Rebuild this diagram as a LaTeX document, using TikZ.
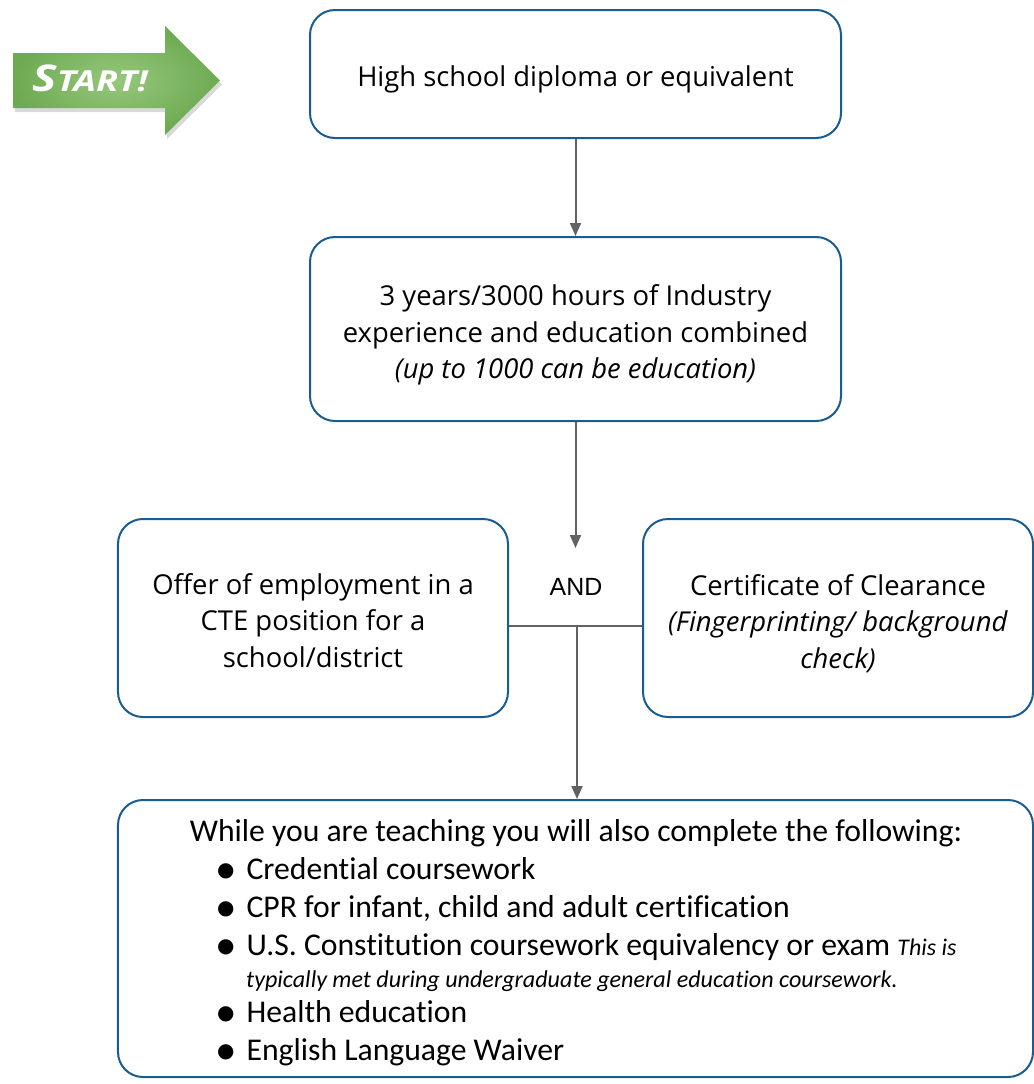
\documentclass[tikz,border=0pt]{standalone}
\usepackage{fontspec}
\setmainfont{Open Sans}
\newfontfamily\calibri{Carlito}[Ligatures=NoCommon]
\newfontfamily\arialfont{Liberation Sans}
\newfontfamily\symfont{DejaVu Sans}
\usetikzlibrary{arrows.meta, shadows}

\definecolor{boxblue}{RGB}{25,92,145}
\definecolor{linegray}{RGB}{98,98,98}
\definecolor{startgreen}{RGB}{110,170,82}
\definecolor{startlight}{RGB}{150,200,124}

\newcommand{\bul}{\raisebox{3bp}{\symfont\fontsize{20}{20}\selectfont ●}\hspace{12bp}}
\newcommand{\topstrut}[1]{\rule{0pt}{#1}}

\begin{document}
\begin{tikzpicture}[x=1bp, y=1bp,
    box/.style={draw=boxblue, line width=2bp, rounded corners=25bp, align=center,
        inner sep=0pt, font=\fontsize{27.5}{36.5}\selectfont},
    conn/.style={draw=linegray, line width=2bp, -{Triangle[width=11bp,length=13bp]}},
    item/.style={anchor=base west, inner sep=0pt, font=\calibri\fontsize{31.8}{38}\selectfont}]
    \useasboundingbox (0,0) rectangle (1034,-1084);

    % start arrow
    \path[drop shadow={shadow xshift=2bp, shadow yshift=-4bp, opacity=0.3},
        inner color=startlight, outer color=startgreen]
        (13,-53) -- (165,-53) -- (165,-26) -- (220,-80.5) -- (165,-135)
        -- (165,-108) -- (13,-108) -- cycle;
    \node[text=white, font=\bfseries\itshape\addfontfeature{FakeStretch=1.25}\fontsize{37}{37}\selectfont]
        (start) at (90,-78) {S{\fontsize{29}{29}\selectfont TART!}};

    % boxes
    \node[box, minimum width=531bp, minimum height=128bp] (diploma)   at (575.5,-74)
        {\topstrut{31bp}High school diploma or equivalent};
    \node[box, minimum width=531bp, minimum height=184bp] (industry)  at (575.5,-329)
        {\topstrut{33bp}3 years/3000 hours of Industry\\ experience and education combined\\
         \textit{(up to 1000 can be education)}};
    \node[box, minimum width=390bp, minimum height=198bp] (offer)     at (313,-618)
        {\topstrut{26bp}Offer of employment in a\\ CTE position for a\\ school/district};
    \node[box, minimum width=390bp, minimum height=198bp] (clearance) at (838,-618)
        {\topstrut{32bp}Certificate of Clearance\\ \textit{(Fingerprinting/ background}\\ \textit{check)}};
    \node[box, minimum width=915bp, minimum height=277bp] (tasks)     at (575.5,-938.5) {};

    \node[font=\arialfont\fontsize{25}{25}\selectfont] (and) at (576,-587) {AND};

    % list in the last box
    \node[item, anchor=base] (intro) at (576,-841)
        {While you are teaching you will also complete the following:};
    \node[item] (course)  at (217,-879)  {\bul Credential coursework};
    \node[item] (cpr)     at (217,-917)  {\bul CPR for infant, child and adult certification};
    \node[item] (usc)     at (217,-955)  {\bul U.S. Constitution coursework equivalency or exam
        {\itshape\fontsize{24}{24}\selectfont This is}};
    \node[item, font=\calibri\itshape\fontsize{24.2}{24}\selectfont] (usnote) at (246,-987)
        {typically met during undergraduate general education coursework.};
    \node[item] (health)  at (217,-1022) {\bul Health education};
    \node[item] (english) at (217,-1060) {\bul English Language Waiver};

    % connectors
    \coordinate (join)  at (575.5,-548);
    \coordinate (split) at (577,-626);
    \path
        (diploma)
            edge [conn] (industry)
        (industry.south)
            edge [conn] (join)
        (offer.east |- split)
            edge [draw=linegray, line width=2bp] (clearance.west |- split)
        (split)
            edge [conn] (split |- tasks.north)
        ;
\end{tikzpicture}
\end{document}
